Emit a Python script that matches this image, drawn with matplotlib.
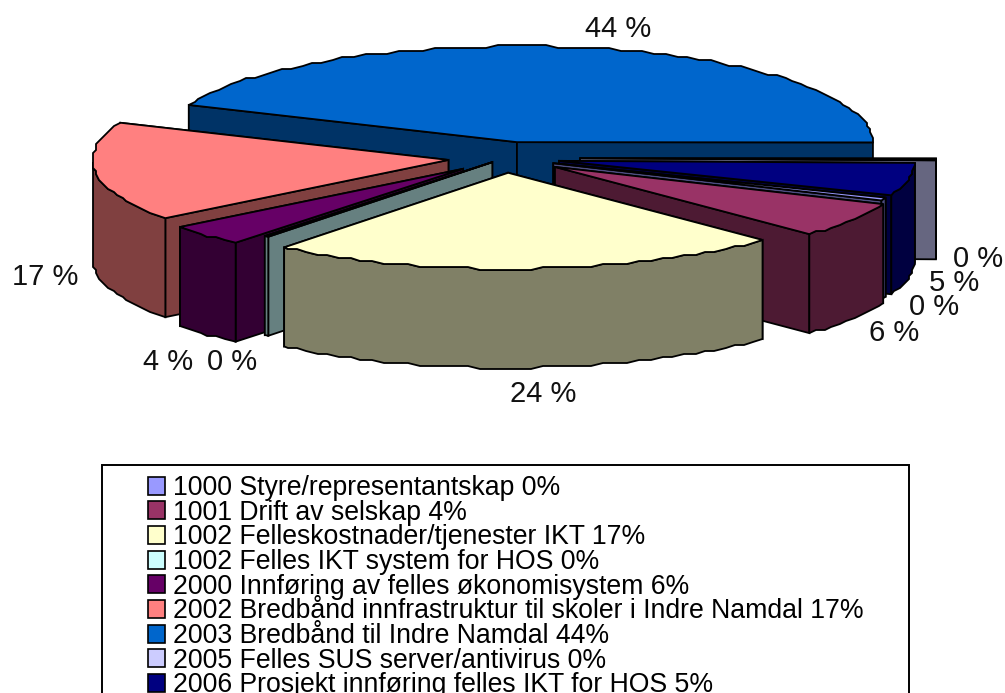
import numpy as np
import matplotlib
matplotlib.use('Agg')
import matplotlib.pyplot as plt
from matplotlib.patches import Patch, Polygon, Rectangle

plt.rcParams['font.family'] = ['Liberation Sans', 'DejaVu Sans']

# legend order, values (not from the legend text)
categories = [
    '1000 Styre/representantskap 0%',
    '1001 Drift av selskap 4%',
    '1002 Felleskostnader/tjenester IKT 17%',
    '1002 Felles IKT system for HOS 0%',
    '2000 Innføring av felles økonomisystem 6%',
    '2002 Bredbånd innfrastruktur til skoler i Indre Namdal 17%',
    '2003 Bredbånd til Indre Namdal 44%',
    '2005 Felles SUS server/antivirus 0%',
    '2006 Prosjekt innføring felles IKT for HOS 5%',
]
values = [0.5, 6.0, 23.5, 0.2, 3.6, 16.7, 43.71, 0.3, 5.49]

colors = ['#9999FF', '#993366', '#FFFFCC', '#CCFFFF', '#660066',
          '#FF8080', '#0066CC', '#CCCCFF', '#000080']
# how far each slice is pulled out of the pie, pixels
explode = [52, 60, 55, 20, 58, 57, 60, 75, 55]
label_pos = [(934, 307), (894, 333), (543, 394), (232, 362), (168, 362),
             (45, 277), (618, 29), (978, 259), (954, 283)]
draw_order = [6, 7, 8, 0, 1, 5, 4, 3, 2]

cx, cy = 505, 158
rx, ry = 356, 96
depth = 99
start = -21.0  # 1000 slice starts here, slices run clockwise


def rim(pts, step=3):
    # the original outline is stepped, not a smooth curve
    return np.round(pts / step) * step


def arc(t0, t1, x0, y0):
    t = np.radians(np.arange(t0, t1, -2.0).tolist() + [t1])
    pts = np.column_stack([x0 + rx * np.cos(t), y0 - ry * np.sin(t)])
    pts[1:-1] = rim(pts[1:-1])
    return pts, t


fig = plt.figure(figsize=(10.05, 6.93), dpi=100)
ax = fig.add_axes([0, 0, 1, 1])
ax.set_xlim(0, 1005)
ax.set_ylim(693, 0)
ax.axis('off')

lw = 1.3
ang = start
slices = []
for v, d in zip(values, explode):
    t0, t1 = ang, ang - v * 3.6
    mid = np.radians((t0 + t1) / 2)
    slices.append((t0, t1, cx + d * np.cos(mid), cy - d * ry / rx * np.sin(mid)))
    ang = t1

for i in draw_order:
    t0, t1, x0, y0 = slices[i]
    col = colors[i]
    dark = tuple(c * 0.5 for c in matplotlib.colors.to_rgb(col))
    pts, t = arc(t0, t1, x0, y0)
    apex = np.array([x0, y0])
    down = np.array([0, depth])

    # straight side walls, the far one first
    ends = sorted([pts[0], pts[-1]], key=lambda p: p[1])
    for e in ends:
        ax.add_patch(Polygon([apex, e, e + down, apex + down], fc=dark, ec='k', lw=lw))

    # outer wall, only the part facing the viewer
    front = pts[np.sin(t) <= 0]
    if len(front) > 1:
        ax.add_patch(Polygon(np.vstack([front, front[::-1] + down]), fc=dark, ec='k', lw=lw))

    ax.add_patch(Polygon(np.vstack([apex, pts]), fc=col, ec='k', lw=lw))

for v, p in zip(values, label_pos):
    ax.text(p[0], p[1], f'{round(v)} %', fontsize=21, ha='center', va='center', color='#111111')

ax.add_patch(Rectangle((102, 465), 807, 250, fc='white', ec='k', lw=1.4))
handles = [Patch(fc=c, ec='k', lw=1.2) for c in colors]
ax.legend(handles, categories, loc='upper left', bbox_to_anchor=(148 / 1005, 1 - 475 / 693),
          frameon=False, fontsize=19.2, labelspacing=-0.05, handlelength=0.65, handleheight=0.65,
          handletextpad=0.3, borderpad=0, borderaxespad=0)

fig.savefig('out.png', dpi=100)
